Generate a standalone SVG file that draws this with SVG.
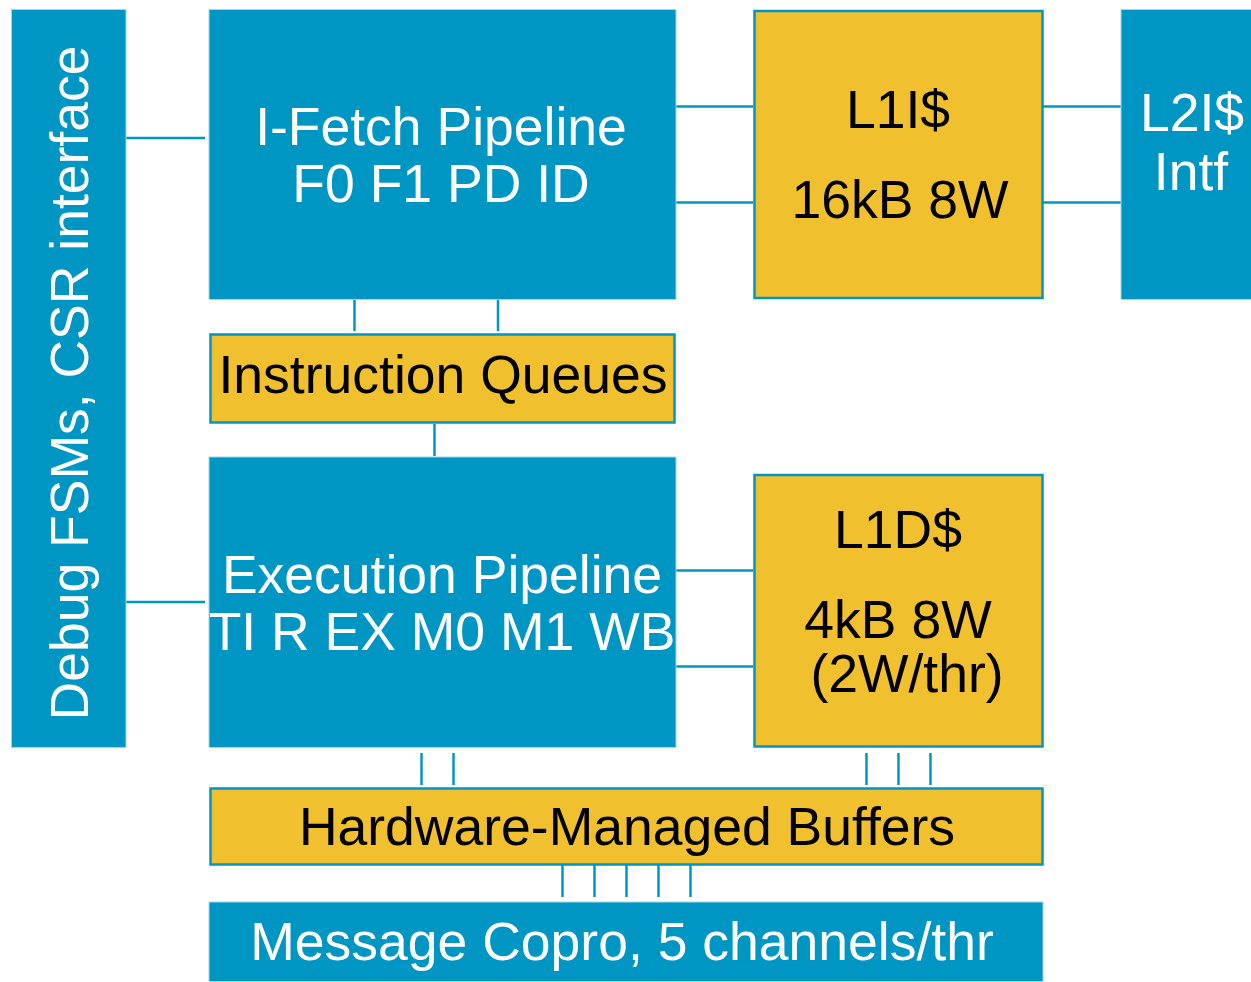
<svg xmlns="http://www.w3.org/2000/svg" width="1251" height="982" viewBox="0 0 1251 982">
  <style>
    .blue { fill: #0096c4; stroke: #a6d6e8; stroke-width: 1; }
    .yellow { fill: #f1c02e; stroke: #0096c4; stroke-width: 2.5; }
    .wire { stroke: #0096c4; stroke-width: 2.5; fill: none; }
    .tw { font-family: "Liberation Sans", Arial, sans-serif; font-size: 53.5px; fill: #ffffff; text-anchor: middle; }
    .tb { font-family: "Liberation Sans", Arial, sans-serif; font-size: 53.5px; fill: #000000; text-anchor: middle; }
  </style>
  <rect width="1251" height="982" fill="#ffffff"/>

  <!-- connectors -->
  <g id="connectors">
    <line class="wire" x1="126" y1="138" x2="205" y2="138"/>
    <line class="wire" x1="126" y1="602" x2="205" y2="602"/>
    <line class="wire" x1="676" y1="106.5" x2="753" y2="106.5"/>
    <line class="wire" x1="676" y1="202.5" x2="753" y2="202.5"/>
    <line class="wire" x1="1043" y1="106.5" x2="1121" y2="106.5"/>
    <line class="wire" x1="1043" y1="202.5" x2="1121" y2="202.5"/>
    <line class="wire" x1="354.5" y1="299" x2="354.5" y2="331"/>
    <line class="wire" x1="498" y1="299" x2="498" y2="331"/>
    <line class="wire" x1="434.5" y1="424" x2="434.5" y2="456"/>
    <line class="wire" x1="676" y1="570.5" x2="753" y2="570.5"/>
    <line class="wire" x1="676" y1="666.5" x2="753" y2="666.5"/>
    <line class="wire" x1="421.5" y1="753" x2="421.5" y2="785"/>
    <line class="wire" x1="453.5" y1="753" x2="453.5" y2="785"/>
    <line class="wire" x1="866.5" y1="753" x2="866.5" y2="785"/>
    <line class="wire" x1="898.5" y1="753" x2="898.5" y2="785"/>
    <line class="wire" x1="930.5" y1="753" x2="930.5" y2="785"/>
    <line class="wire" x1="562.5" y1="865" x2="562.5" y2="897"/>
    <line class="wire" x1="594.5" y1="865" x2="594.5" y2="897"/>
    <line class="wire" x1="626.5" y1="865" x2="626.5" y2="897"/>
    <line class="wire" x1="658.5" y1="865" x2="658.5" y2="897"/>
    <line class="wire" x1="690.5" y1="865" x2="690.5" y2="897"/>
  </g>

  <g id="debug">
    <rect class="blue" x="11.5" y="9.5" width="114.5" height="738"/>
    <text class="tw" transform="translate(88,383) rotate(-90)">Debug FSMs, CSR interface</text>
  </g>

  <g id="ifetch">
    <rect class="blue" x="209" y="9.5" width="467" height="290"/>
    <text class="tw" x="441" y="145">I-Fetch Pipeline</text>
    <text class="tw" x="441" y="202">F0 F1 PD ID</text>
  </g>

  <g id="l1i">
    <rect class="yellow" x="754.5" y="11" width="288" height="287"/>
    <text class="tb" x="898" y="128">L1I$</text>
    <text class="tb" x="900" y="218">16kB 8W</text>
  </g>

  <g id="l2i">
    <rect class="blue" x="1121" y="9.5" width="131" height="290"/>
    <text class="tw" x="1192" y="131">L2I$</text>
    <text class="tw" x="1191" y="190">Intf</text>
  </g>

  <g id="iqueues">
    <rect class="yellow" x="210.5" y="334.5" width="464" height="88"/>
    <text class="tb" x="443" y="393">Instruction Queues</text>
  </g>

  <g id="exec">
    <rect class="blue" x="209" y="457" width="467" height="290.5"/>
    <text class="tw" x="442" y="593">Execution Pipeline</text>
    <text class="tw" x="442" y="650">TI R EX M0 M1 WB</text>
  </g>

  <g id="l1d">
    <rect class="yellow" x="754.5" y="475" width="288" height="271.5"/>
    <text class="tb" x="898" y="548">L1D$</text>
    <text class="tb" x="898" y="638">4kB 8W</text>
    <text class="tb" x="907" y="692">(2W/thr)</text>
  </g>

  <g id="hwbuffers">
    <rect class="yellow" x="210.5" y="788.5" width="832" height="76"/>
    <text class="tb" x="627" y="845">Hardware-Managed Buffers</text>
  </g>

  <g id="msgcopro">
    <rect class="blue" x="209" y="902" width="834" height="79.5"/>
    <text class="tw" x="622" y="960">Message Copro, 5 channels/thr</text>
  </g>
</svg>
